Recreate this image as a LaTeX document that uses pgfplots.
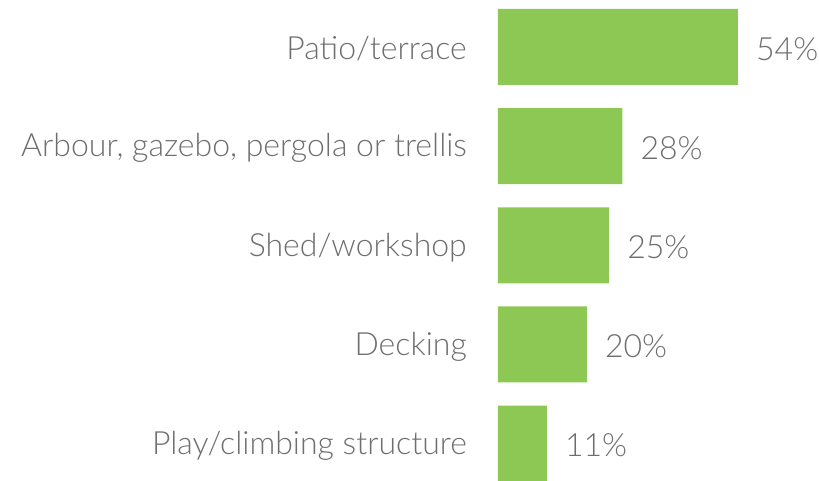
\documentclass[border=0pt]{standalone}
\usepackage{pgfplots}
\pgfplotsset{compat=1.18}
\usepackage{fontspec}
\setmainfont{Lato}[UprightFont=* Light]
\definecolor{bargreen}{HTML}{8CC853}
\definecolor{txtgray}{HTML}{6E6E6E}
\begin{document}
\begin{tikzpicture}
\useasboundingbox (-498bp,0) rectangle (321bp,481bp);
\begin{axis}[
  anchor=south west, at={(0,0)},
  scale only axis,
  width=321bp, height=481bp,
  xbar, bar width=76bp,
  xmin=0, xmax=72.23,
  ymin=-0.378, ymax=4.474,
  /pgf/number format/assume math mode=true,
  hide x axis,
  axis line style={draw=none},
  ytick={0,1,2,3,4},
  yticklabels={Play/climbing structure,Decking,Shed/workshop,{Arbour, gazebo, pergola or trellis},Patio/terrace},
  major tick length=0pt,
  ytick style={draw=none},
  tick label style={font=\fontsize{32bp}{36bp}\selectfont, text=txtgray},
  yticklabel style={anchor=east, inner sep=0pt, xshift=-31bp, yshift=-2bp},
  nodes near coords={\pgfmathprintnumber{\pgfplotspointmeta}\%},
  point meta=x,
  nodes near coords style={font=\fontsize{32bp}{36bp}\selectfont, text=txtgray, anchor=west, inner sep=0pt, xshift=18bp, yshift=-2bp},
]
\addplot[fill=bargreen, draw=none] coordinates {(11,0) (20,1) (25,2) (28,3) (54,4)};
\end{axis}
\end{tikzpicture}
\end{document}
